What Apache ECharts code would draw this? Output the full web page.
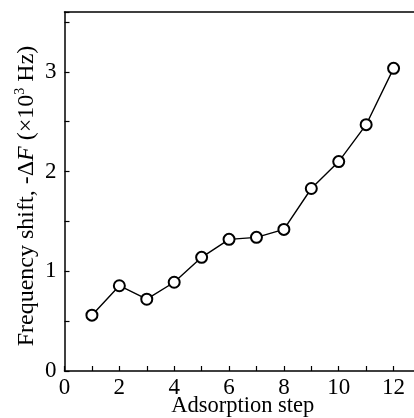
<!DOCTYPE html>
<html><head><meta charset="utf-8">
<script src="https://cdn.jsdelivr.net/npm/echarts@6/dist/echarts.min.js"></script>
<style>html,body{margin:0;padding:0;background:#fff}#c{width:414px;height:418px}</style>
</head><body><div id="c"></div>
<script>
const steps = [1,2,3,4,5,6,7,8,9,10,11,12];
const shift = [0.56,0.855,0.72,0.89,1.14,1.32,1.34,1.42,1.83,2.10,2.47,3.035];
const xTicks = [0,2,4,6,8,10,12];
const yTicks = [0,1,2,3];
const FONT = "'Liberation Serif', 'Times New Roman', Times, serif";
const chart = echarts.init(document.getElementById('c'));
chart.setOption({
  animation:false,
  grid:{left:64.5,right:-7,top:12,bottom:47,outerBoundsMode:'none',containLabel:false},
  xAxis:[{
    type:'value',min:0,max:13,interval:1,
    name:'Adsorption step',nameLocation:'middle',nameGap:23.5,nameMoveOverlap:false,
    nameTextStyle:{fontFamily:FONT,fontSize:22.5,color:'#000'},
    axisLine:{lineStyle:{color:'#000',width:1.5}},
    axisTick:{inside:true,length:5,lineStyle:{color:'#000',width:1.2}},
    axisLabel:{margin:5,fontFamily:FONT,fontSize:23,color:'#000',
      formatter:v=>xTicks.includes(v)?String(v):''},
    splitLine:{show:false}
  },{
    type:'value',position:'top',min:0,max:13,
    axisLine:{show:true,lineStyle:{color:'#000',width:1.5}},
    axisTick:{show:false},axisLabel:{show:false},splitLine:{show:false}
  }],
  yAxis:{
    type:'value',min:0,max:3.6,interval:0.5,
    name:'{a|Frequency shift, -Δ}{i|F}{a| (×10}{s|3}{a| Hz)}',
    nameLocation:'middle',nameGap:24,nameRotate:90,nameMoveOverlap:false,
    nameTextStyle:{padding:[0,9,0,0],rich:{
      a:{fontFamily:FONT,fontSize:24,color:'#000'},
      i:{fontFamily:FONT,fontSize:24,fontStyle:'italic',color:'#000'},
      s:{fontFamily:FONT,fontSize:14,color:'#000',padding:[0,0,13,0]}
    }},
    axisLine:{show:true,lineStyle:{color:'#000',width:1.5}},
    axisTick:{inside:true,length:5,lineStyle:{color:'#000',width:1.2}},
    axisLabel:{margin:8,fontFamily:FONT,fontSize:23,color:'#000',
      formatter:v=>yTicks.includes(v)?String(v):''},
    splitLine:{show:false}
  },
  series:[{
    type:'line',data:steps.map((s,i)=>[s,shift[i]]),
    symbol:'circle',symbolSize:11,
    lineStyle:{color:'#000',width:1.4},
    itemStyle:{color:'#fff',borderColor:'#000',borderWidth:2}
  }]
});
</script></body></html>
